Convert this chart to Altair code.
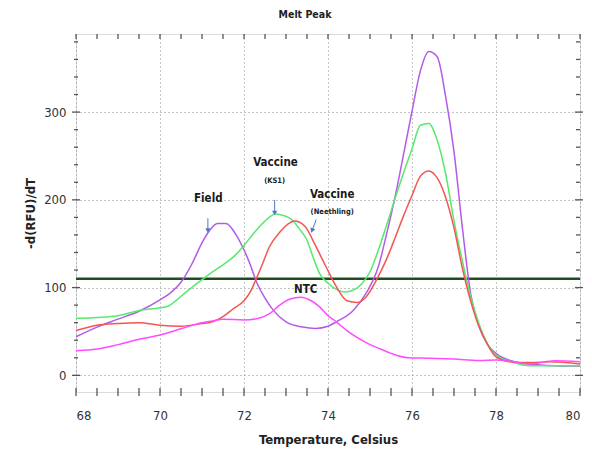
import altair as alt
import pandas as pd

# Melt-curve derivative readings (temperature in °C, -d(RFU)/dT)
field_t = [68.0, 68.5, 69.0, 69.5, 70.0, 70.25, 70.5, 70.75, 71.0, 71.15, 71.37, 71.57,
           71.8, 72.0, 72.15, 72.3, 72.5, 72.7, 73.0, 73.4, 73.7, 74.0, 74.2, 74.6,
           74.9, 75.2, 75.4, 75.6, 75.8, 76.0, 76.2, 76.4, 76.6, 76.8, 77.0, 77.2,
           77.4, 77.6, 77.8, 78.0, 78.4, 78.8, 79.4, 80.0]
field_v = [44, 55, 64, 73, 86, 94, 106, 126, 151, 163, 173, 173,
           161, 143, 126, 106, 88, 74, 61, 55, 53.5, 56, 61, 74,
           93, 124, 162, 204, 252, 301, 347, 369, 363, 318, 255, 168,
           92, 55, 35, 25, 16, 13, 11, 10.5]

ks1_t = [68.0, 68.5, 69.0, 69.5, 70.0, 70.2, 70.4, 70.6, 71.0, 71.25, 71.5, 71.75,
         72.0, 72.2, 72.4, 72.6, 72.75, 72.95, 73.15, 73.3, 73.5, 73.65, 73.8, 74.0,
         74.2, 74.4, 74.6, 74.8, 75.0, 75.2, 75.4, 75.6, 75.8, 76.0, 76.2, 76.4,
         76.6, 76.8, 77.0, 77.2, 77.4, 77.6, 77.8, 78.0, 78.4, 78.8, 79.4, 80.0]
ks1_v = [65, 66, 68, 74, 77, 79, 86, 94, 109, 118, 126, 135,
         148, 160, 171, 180, 184, 182, 177, 168, 154, 134, 116, 105,
         98, 95, 97, 104, 118, 143, 172, 202, 231, 258, 285, 287,
         268, 230, 176, 130, 89, 58, 36, 23, 15, 11, 11, 11]

neeth_t = [68.0, 68.5, 69.0, 69.5, 70.0, 70.5, 71.0, 71.25, 71.5, 71.75, 72.0, 72.15,
           72.3, 72.45, 72.6, 72.85, 73.1, 73.2, 73.45, 73.7, 73.95, 74.2, 74.45, 74.7,
           74.9, 75.2, 75.4, 75.6, 75.8, 76.0, 76.2, 76.4, 76.6, 76.8, 77.0, 77.2,
           77.4, 77.6, 77.8, 78.0, 78.4, 78.8, 79.3, 80.0]
neeth_v = [51, 57, 59, 60, 57, 56, 59, 61, 67, 76, 85, 95,
           111, 128, 146, 163, 174, 176, 170, 148, 124, 101, 85, 83,
           89, 113, 133, 157, 182, 205, 227, 233, 225, 203, 168, 122,
           84, 55, 35, 21, 15, 14.5, 15.5, 13]

ntc_t = [68.0, 68.5, 69.0, 69.5, 70.0, 70.5, 71.0, 71.25, 71.5, 72.0, 72.35, 72.6,
         72.85, 73.1, 73.35, 73.6, 73.8, 74.0, 74.2, 74.45, 74.7, 75.0, 75.25, 75.5,
         75.9, 76.4, 77.0, 77.6, 78.0, 78.4, 78.8, 79.4, 80.0]
ntc_v = [28, 30, 35, 41, 46, 53, 60, 62, 64, 63, 65, 70,
         80, 87, 89, 85, 78, 68, 61, 51, 43, 35, 30, 25,
         20, 19.5, 18.5, 17, 17.5, 15.5, 13, 16.5, 15.5]

series_names = ["Field", "Vaccine KS1", "Vaccine Neethling", "NTC"]
series_colors = ["#b35be6", "#55ea6c", "#f35652", "#ff4cff"]

threshold = 110

x_ticks = [68, 70, 72, 74, 76, 78, 80]
y_ticks = [0, 100, 200, 300]
x_minor = [68 + 0.5 * i for i in range(25)]
y_minor = [20 * i for i in range(20)]

# Peak annotations: text, temperature, value, size
label_text = ["Field", "Vaccine", "(KS1)", "Vaccine", "(Neethling)", "NTC"]
label_t = [71.15, 72.75, 72.73, 74.1, 74.1, 73.47]
label_v = [200.5, 241.5, 222, 206, 186.5, 97.5]
label_size = [11.5, 11.5, 7.5, 11.5, 7.5, 11.5]

# Arrows: start (t, v) -> tip (t, v), head angle
arrow_t0 = [71.14, 72.73, 73.72]
arrow_v0 = [179, 200, 177.5]
arrow_t1 = [71.14, 72.73, 73.62]
arrow_v1 = [165, 185, 165]
arrow_angle = [0, 0, 21]

W, H = 504, 358
FONT = "Liberation Sans Narrow, Arial Narrow, DejaVu Sans Condensed, sans-serif"

curves = pd.concat([
    pd.DataFrame({"t": t, "v": v, "sample": name})
    for t, v, name in [(field_t, field_v, "Field"), (ks1_t, ks1_v, "Vaccine KS1"),
                       (neeth_t, neeth_v, "Vaccine Neethling"), (ntc_t, ntc_v, "NTC")]
], ignore_index=True)

xs = alt.Scale(domain=[68, 80], nice=False, zero=False)
ys = alt.Scale(domain=[-19, 389], nice=False, zero=False)

x_axis = alt.Axis(values=x_ticks, ticks=False, domain=False, grid=True,
                  gridDash=[1, 3], gridColor="#8a8a8a", gridWidth=1,
                  labelFont=FONT, labelFontSize=13, labelColor="#333333",
                  labelPadding=17, title="Temperature, Celsius",
                  titleFont=FONT, titleFontSize=13, titleFontWeight="bold",
                  titleColor="#222222", titlePadding=11)
y_axis = alt.Axis(values=y_ticks, ticks=False, domain=False, grid=True,
                  gridDash=[1, 3], gridColor="#8a8a8a", gridWidth=1,
                  labelFont=FONT, labelFontSize=13, labelColor="#333333",
                  labelPadding=10, title="-d(RFU)/dT",
                  titleFont=FONT, titleFontSize=13, titleFontWeight="bold",
                  titleColor="#222222", titlePadding=6)

lines = alt.Chart(curves).mark_line(strokeWidth=1.5, interpolate="monotone").encode(
    x=alt.X("t:Q", scale=xs, axis=x_axis),
    y=alt.Y("v:Q", scale=ys, axis=y_axis),
    color=alt.Color("sample:N", scale=alt.Scale(domain=series_names, range=series_colors),
                    legend=None),
    detail="sample:N",
)

thr = alt.Chart(pd.DataFrame({"v": [threshold]})).mark_rule(
    color="#1f4d1f", strokeWidth=2.5
).encode(y=alt.Y("v:Q", scale=ys))

# Tick marks around the frame
xt = pd.DataFrame({"t": x_minor})
yt = pd.DataFrame({"v": y_minor, "major": [v % 100 == 0 for v in y_minor]})
tick_style = dict(color="#555555", strokeWidth=1.3)

bottom_ticks = alt.Chart(xt).mark_rule(**tick_style).encode(
    x=alt.X("t:Q", scale=xs), y=alt.value(H - 4), y2=alt.value(H + 4))
top_ticks = alt.Chart(xt).mark_rule(**tick_style).encode(
    x=alt.X("t:Q", scale=xs), y=alt.value(0), y2=alt.value(5))
left_minor = alt.Chart(yt[~yt.major]).mark_rule(**tick_style).encode(
    y=alt.Y("v:Q", scale=ys), x=alt.value(-2), x2=alt.value(2))
left_major = alt.Chart(yt[yt.major]).mark_rule(**tick_style).encode(
    y=alt.Y("v:Q", scale=ys), x=alt.value(-4), x2=alt.value(4))
right_minor = alt.Chart(yt[~yt.major]).mark_rule(**tick_style).encode(
    y=alt.Y("v:Q", scale=ys), x=alt.value(W - 4), x2=alt.value(W))
right_major = alt.Chart(yt[yt.major]).mark_rule(**tick_style).encode(
    y=alt.Y("v:Q", scale=ys), x=alt.value(W - 5), x2=alt.value(W + 3))

labels_df = pd.DataFrame({"text": label_text, "t": label_t, "v": label_v, "size": label_size})
labels = alt.Chart(labels_df).mark_text(
    font=FONT, fontWeight="bold", color="#1a1a1a", align="center", baseline="middle"
).encode(
    x=alt.X("t:Q", scale=xs), y=alt.Y("v:Q", scale=ys), text="text:N",
    size=alt.Size("size:Q", scale=None, legend=None),
)

arrows_df = pd.DataFrame({"t0": arrow_t0, "v0": arrow_v0, "t1": arrow_t1,
                          "v1": arrow_v1, "angle": arrow_angle})
arrow_color = "#4a78c8"
arrow_shafts = alt.Chart(arrows_df).mark_rule(color=arrow_color, strokeWidth=1).encode(
    x=alt.X("t0:Q", scale=xs), y=alt.Y("v0:Q", scale=ys),
    x2="t1:Q", y2="v1:Q")
arrow_heads = alt.Chart(arrows_df).mark_point(
    shape="triangle-down", filled=True, color=arrow_color, size=28, opacity=1
).encode(
    x=alt.X("t1:Q", scale=xs), y=alt.Y("v1:Q", scale=ys),
    angle=alt.Angle("angle:Q", scale=None),
)

chart = alt.layer(
    thr, lines, arrow_shafts, arrow_heads, labels,
    bottom_ticks, top_ticks, left_minor, left_major, right_minor, right_major,
).properties(
    width=W, height=H,
    title=alt.TitleParams("Melt Peak", font=FONT, fontSize=10.5, fontWeight="bold",
                          color="#222222", anchor="middle", dx=-23, offset=13),
    autosize=alt.AutoSizeParams(type="none"),
    padding={"left": 76, "top": 34, "right": 12, "bottom": 57},
).configure_view(
    stroke="#6e6e6e", strokeWidth=2
).configure(background="white")

chart.save("out.html", embed_options={"renderer": "svg", "actions": False})
